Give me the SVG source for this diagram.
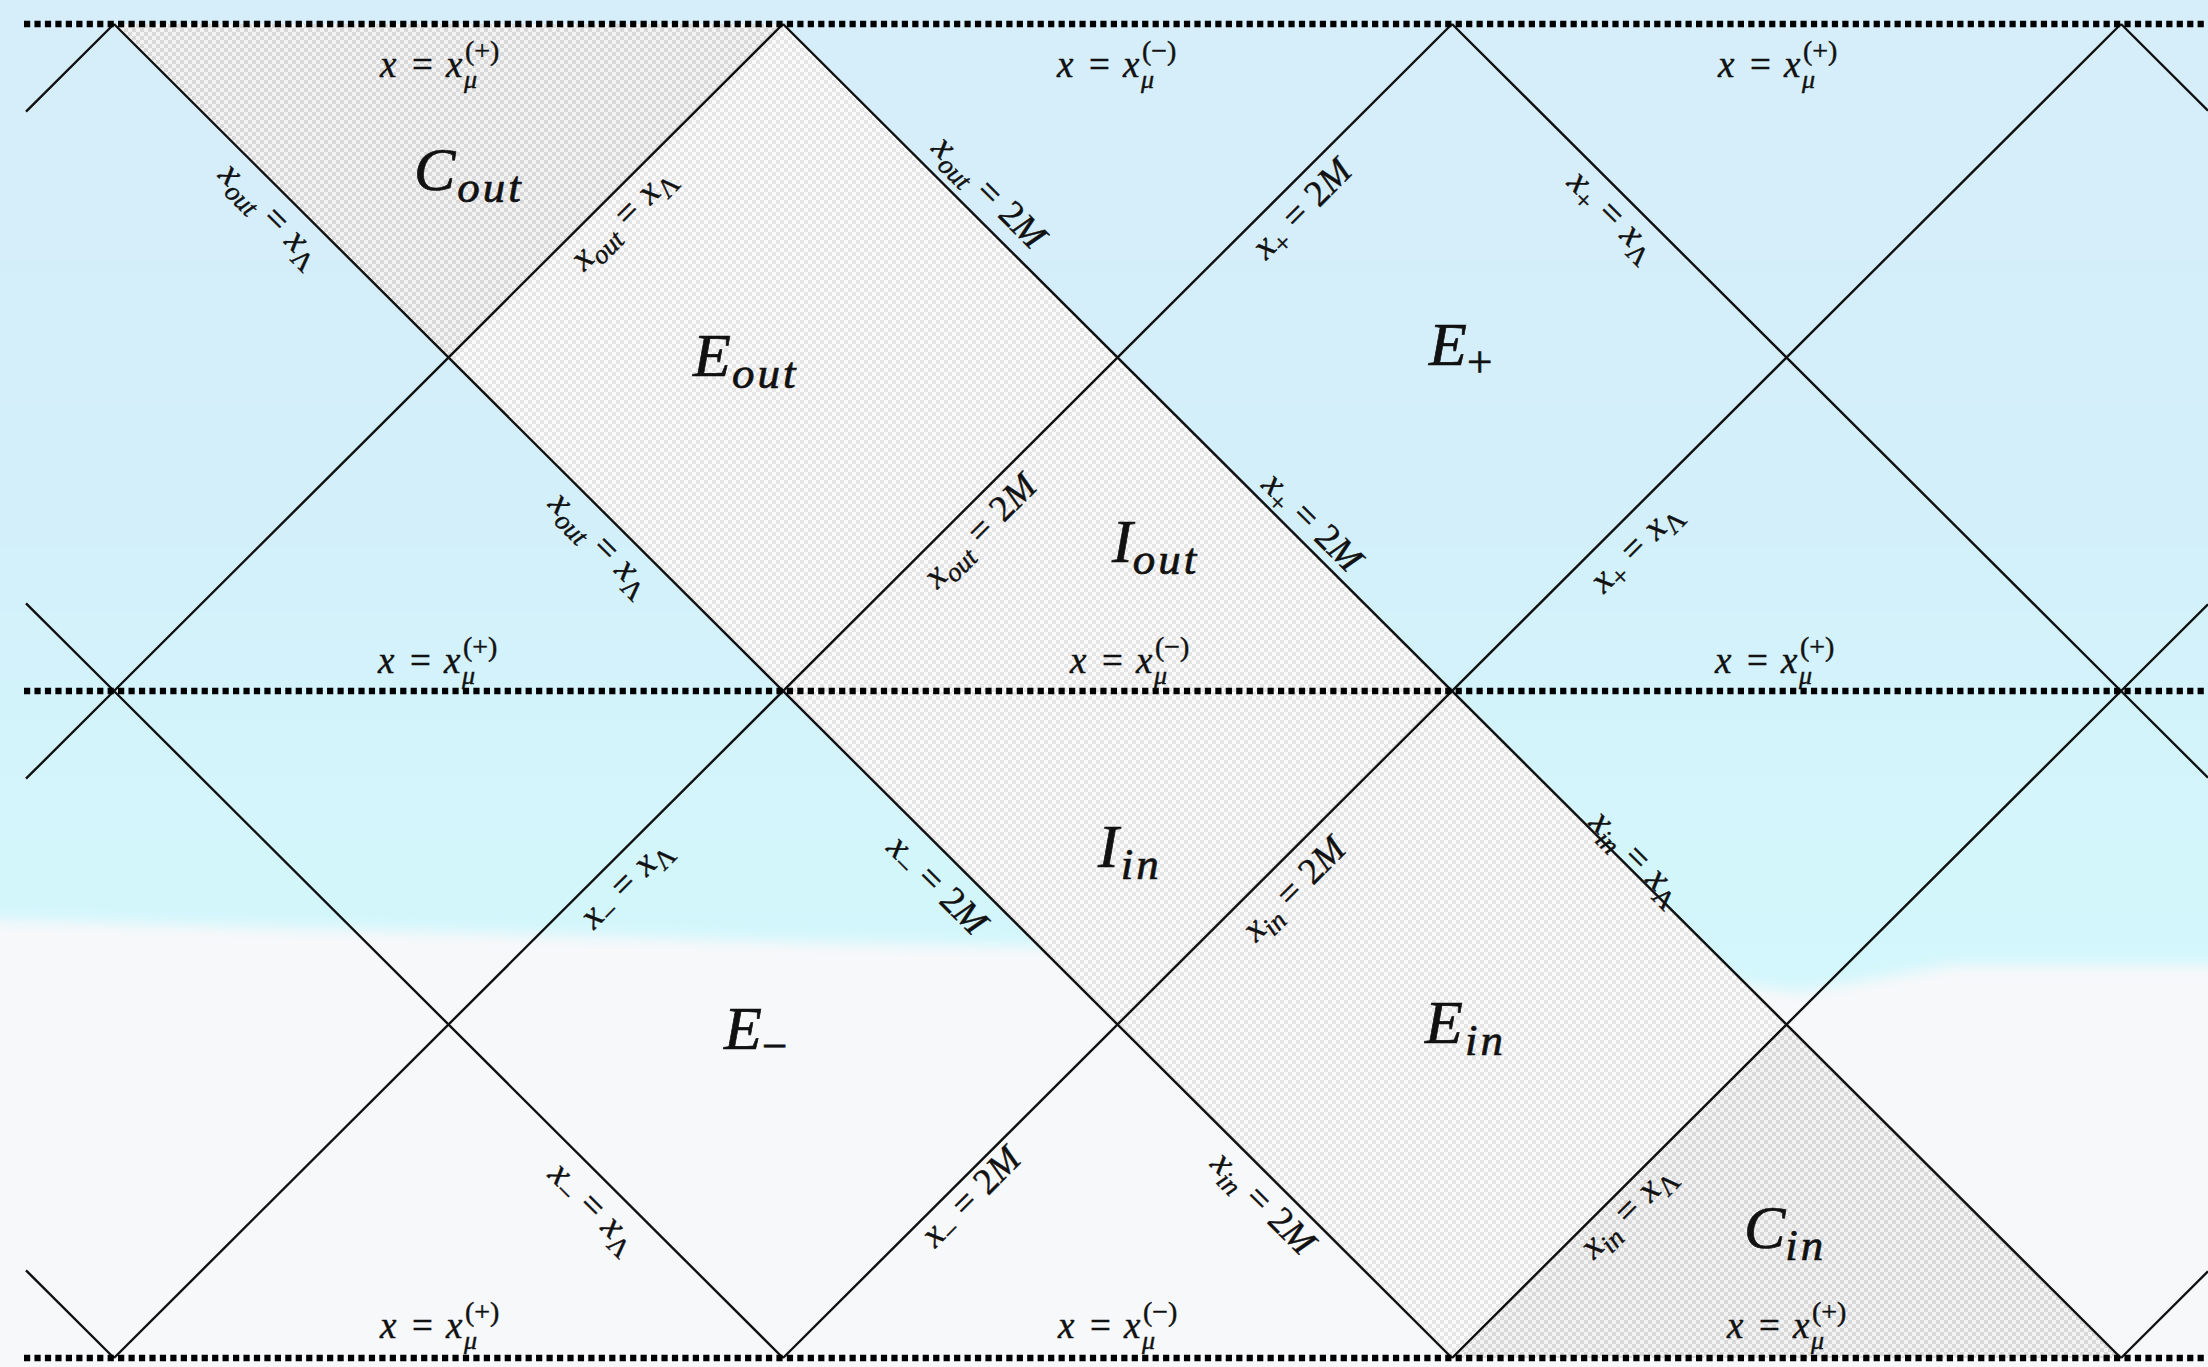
<svg xmlns="http://www.w3.org/2000/svg" width="2208" height="1367" viewBox="0 0 2208 1367">
<style>
.v{font-family:"Liberation Serif","Times New Roman",serif;font-style:italic}
text{font-family:"Liberation Serif","Times New Roman",serif;fill:#111;stroke:#111}
.t{font-size:37px;stroke-width:0.45}
.ss{font-size:26px}
.sp{font-size:28px}
.s{font-size:27px}
.big{font-size:62px;stroke-width:0.7}
.sb{font-size:45px;letter-spacing:3px}
.ln{fill:none;stroke:#111;stroke-width:2.4}
.dot{fill:none;stroke:#000;stroke-width:6.5;stroke-dasharray:6.2 4.25}
</style>
<defs>
<linearGradient id="sky" x1="0" y1="0" x2="0" y2="960" gradientUnits="userSpaceOnUse">
<stop offset="0" stop-color="#d6eef9"/>
<stop offset="0.45" stop-color="#d3eff9"/>
<stop offset="1" stop-color="#d3f7fc"/>
</linearGradient>
<filter id="soft" x="-5%" y="-5%" width="110%" height="110%"><feGaussianBlur stdDeviation="7"/></filter>
<pattern id="chk" width="8" height="8" patternUnits="userSpaceOnUse"><rect width="8" height="8" fill="#fafafa"/><rect width="4" height="4" fill="#e5e5e5"/><rect x="4" y="4" width="4" height="4" fill="#e5e5e5"/></pattern>
<pattern id="chk2" width="8" height="8" patternUnits="userSpaceOnUse"><rect width="8" height="8" fill="#f3f3f3"/><rect width="4" height="4" fill="#d9d9d9"/><rect x="4" y="4" width="4" height="4" fill="#d9d9d9"/></pattern>
</defs>

<g id="background">
<rect width="2208" height="1367" fill="#f7f8fa"/>
<path d="M-60,-60 H2270 V965 L1950,965 L1800,992 L1600,965 L1100,948 L800,942 L-60,918 Z" fill="url(#sky)" filter="url(#soft)"/>
</g>

<g id="regions">
<polygon id="band" points="114,24 783,24 2121,1358 1452,1358" fill="url(#chk)"/>
<polygon id="region-cout" points="114,24 783,24 448.5,357.5" fill="url(#chk2)"/>
<polygon id="region-cin" points="1452,1358 1786.5,1024.5 2121,1358" fill="url(#chk2)"/>
</g>

<g id="connectors">
<polyline class="ln" points="114,24 1452,1358"/>
<polyline class="ln" points="783,24 2121,1358"/>
<polyline class="ln" points="1452,24 2121,691 2208,777.7"/>
<polyline class="ln" points="2121,24 2208,110.7"/>
<polyline class="ln" points="26,603.3 114,691 783,1358"/>
<polyline class="ln" points="26,1270.3 114,1358"/>
<polyline class="ln" points="26,111.7 114,24"/>
<polyline class="ln" points="26,778.7 114,691 783,24"/>
<polyline class="ln" points="114,1358 1452,24"/>
<polyline class="ln" points="783,1358 2121,24"/>
<polyline class="ln" points="1452,1358 2121,691 2208,604.3"/>
<polyline class="ln" points="2121,1358 2208,1271.3"/>
<line class="dot" x1="24" y1="24" x2="2208" y2="24"/>
<line class="dot" x1="24" y1="691" x2="2208" y2="691"/>
<line class="dot" x1="24" y1="1358" x2="2208" y2="1358"/>
</g>

<g id="boundary-labels">
<text class="t" y="77"><tspan class="v" x="380">x</tspan><tspan x="412">=</tspan><tspan class="v" x="446">x</tspan><tspan class="v ss" x="464" y="88">μ</tspan><tspan class="sp" x="465" y="60">(+)</tspan></text>
<text class="t" y="77"><tspan class="v" x="1057">x</tspan><tspan x="1089">=</tspan><tspan class="v" x="1123">x</tspan><tspan class="v ss" x="1141" y="88">μ</tspan><tspan class="sp" x="1142" y="60">(−)</tspan></text>
<text class="t" y="77"><tspan class="v" x="1718">x</tspan><tspan x="1750">=</tspan><tspan class="v" x="1784">x</tspan><tspan class="v ss" x="1802" y="88">μ</tspan><tspan class="sp" x="1803" y="60">(+)</tspan></text>
<text class="t" y="673"><tspan class="v" x="378">x</tspan><tspan x="410">=</tspan><tspan class="v" x="444">x</tspan><tspan class="v ss" x="462" y="684">μ</tspan><tspan class="sp" x="463" y="656">(+)</tspan></text>
<text class="t" y="673"><tspan class="v" x="1070">x</tspan><tspan x="1102">=</tspan><tspan class="v" x="1136">x</tspan><tspan class="v ss" x="1154" y="684">μ</tspan><tspan class="sp" x="1155" y="656">(−)</tspan></text>
<text class="t" y="673"><tspan class="v" x="1715">x</tspan><tspan x="1747">=</tspan><tspan class="v" x="1781">x</tspan><tspan class="v ss" x="1799" y="684">μ</tspan><tspan class="sp" x="1800" y="656">(+)</tspan></text>
<text class="t" y="1338"><tspan class="v" x="380">x</tspan><tspan x="412">=</tspan><tspan class="v" x="446">x</tspan><tspan class="v ss" x="464" y="1349">μ</tspan><tspan class="sp" x="465" y="1321">(+)</tspan></text>
<text class="t" y="1338"><tspan class="v" x="1058">x</tspan><tspan x="1090">=</tspan><tspan class="v" x="1124">x</tspan><tspan class="v ss" x="1142" y="1349">μ</tspan><tspan class="sp" x="1143" y="1321">(−)</tspan></text>
<text class="t" y="1338"><tspan class="v" x="1727">x</tspan><tspan x="1759">=</tspan><tspan class="v" x="1793">x</tspan><tspan class="v ss" x="1811" y="1349">μ</tspan><tspan class="sp" x="1812" y="1321">(+)</tspan></text>
</g>

<g id="line-labels">
<text class="t" text-anchor="middle" y="10" transform="translate(270,215) rotate(45)"><tspan class="v">x</tspan><tspan class="v s" dy="8">out</tspan><tspan dx="11" dy="-8">=</tspan><tspan class="v" dx="11">x</tspan><tspan class="s" dy="8">Λ</tspan></text>
<text class="t" text-anchor="middle" y="10" transform="translate(623,219) rotate(-45)"><tspan class="v">x</tspan><tspan class="v s" dy="8">out</tspan><tspan dx="11" dy="-8">=</tspan><tspan class="v" dx="11">x</tspan><tspan class="s" dy="8">Λ</tspan></text>
<text class="t" text-anchor="middle" y="10" transform="translate(988,193) rotate(45)"><tspan class="v">x</tspan><tspan class="v s" dy="8">out</tspan><tspan dx="11" dy="-8">=</tspan><tspan dx="11">2</tspan><tspan class="v">M</tspan></text>
<text class="t" text-anchor="middle" y="10" transform="translate(1303,210) rotate(-45)"><tspan class="v">x</tspan><tspan class="s" dy="8">+</tspan><tspan dx="11" dy="-8">=</tspan><tspan dx="11">2</tspan><tspan class="v">M</tspan></text>
<text class="t" text-anchor="middle" y="10" transform="translate(1612,216) rotate(45)"><tspan class="v">x</tspan><tspan class="s" dy="8">+</tspan><tspan dx="11" dy="-8">=</tspan><tspan class="v" dx="11">x</tspan><tspan class="s" dy="8">Λ</tspan></text>
<text class="t" text-anchor="middle" y="10" transform="translate(600,544) rotate(45)"><tspan class="v">x</tspan><tspan class="v s" dy="8">out</tspan><tspan dx="11" dy="-8">=</tspan><tspan class="v" dx="11">x</tspan><tspan class="s" dy="8">Λ</tspan></text>
<text class="t" text-anchor="middle" y="10" transform="translate(981,532) rotate(-45)"><tspan class="v">x</tspan><tspan class="v s" dy="8">out</tspan><tspan dx="11" dy="-8">=</tspan><tspan dx="11">2</tspan><tspan class="v">M</tspan></text>
<text class="t" text-anchor="middle" y="10" transform="translate(1311,523) rotate(45)"><tspan class="v">x</tspan><tspan class="s" dy="8">+</tspan><tspan dx="11" dy="-8">=</tspan><tspan dx="11">2</tspan><tspan class="v">M</tspan></text>
<text class="t" text-anchor="middle" y="10" transform="translate(1636,548) rotate(-45)"><tspan class="v">x</tspan><tspan class="s" dy="8">+</tspan><tspan dx="11" dy="-8">=</tspan><tspan class="v" dx="11">x</tspan><tspan class="s" dy="8">Λ</tspan></text>
<text class="t" text-anchor="middle" y="10" transform="translate(626,884) rotate(-45)"><tspan class="v">x</tspan><tspan class="s" dy="8">−</tspan><tspan dx="11" dy="-8">=</tspan><tspan class="v" dx="11">x</tspan><tspan class="s" dy="8">Λ</tspan></text>
<text class="t" text-anchor="middle" y="10" transform="translate(936,886) rotate(45)"><tspan class="v">x</tspan><tspan class="s" dy="8">−</tspan><tspan dx="11" dy="-8">=</tspan><tspan dx="11">2</tspan><tspan class="v">M</tspan></text>
<text class="t" text-anchor="middle" y="10" transform="translate(1295,890) rotate(-45)"><tspan class="v">x</tspan><tspan class="v s" dy="8">in</tspan><tspan dx="11" dy="-8">=</tspan><tspan dx="11">2</tspan><tspan class="v">M</tspan></text>
<text class="t" text-anchor="middle" y="10" transform="translate(1636,858) rotate(45)"><tspan class="v">x</tspan><tspan class="v s" dy="8">in</tspan><tspan dx="11" dy="-8">=</tspan><tspan class="v" dx="11">x</tspan><tspan class="s" dy="8">Λ</tspan></text>
<text class="t" text-anchor="middle" y="10" transform="translate(593,1208) rotate(45)"><tspan class="v">x</tspan><tspan class="s" dy="8">−</tspan><tspan dx="11" dy="-8">=</tspan><tspan class="v" dx="11">x</tspan><tspan class="s" dy="8">Λ</tspan></text>
<text class="t" text-anchor="middle" y="10" transform="translate(972,1198) rotate(-45)"><tspan class="v">x</tspan><tspan class="s" dy="8">−</tspan><tspan dx="11" dy="-8">=</tspan><tspan dx="11">2</tspan><tspan class="v">M</tspan></text>
<text class="t" text-anchor="middle" y="10" transform="translate(1262,1204) rotate(45)"><tspan class="v">x</tspan><tspan class="v s" dy="8">in</tspan><tspan dx="11" dy="-8">=</tspan><tspan dx="11">2</tspan><tspan class="v">M</tspan></text>
<text class="t" text-anchor="middle" y="10" transform="translate(1628,1212) rotate(-45)"><tspan class="v">x</tspan><tspan class="v s" dy="8">in</tspan><tspan dx="11" dy="-8">=</tspan><tspan class="v" dx="11">x</tspan><tspan class="s" dy="8">Λ</tspan></text>
</g>

<g id="region-labels">
<g id="C_out"><text class="big" x="414" y="190"><tspan class="v">C</tspan><tspan class="v sb" dx="2" dy="12">out</tspan></text></g>
<g id="E_out"><text class="big" x="693" y="376"><tspan class="v">E</tspan><tspan class="v sb" dx="1" dy="12">out</tspan></text></g>
<g id="E_plus"><text class="big" x="1429" y="365"><tspan class="v">E</tspan><tspan class="sb" dx="0" dy="12">+</tspan></text></g>
<g id="I_out"><text class="big" x="1112" y="562"><tspan class="v">I</tspan><tspan class="v sb" dx="0" dy="12">out</tspan></text></g>
<g id="I_in"><text class="big" x="1098" y="867"><tspan class="v">I</tspan><tspan class="v sb" dx="2" dy="12">in</tspan></text></g>
<g id="E_minus"><text class="big" x="724" y="1049"><tspan class="v">E</tspan><tspan class="sb" dx="0" dy="12">−</tspan></text></g>
<g id="E_in"><text class="big" x="1425" y="1043"><tspan class="v">E</tspan><tspan class="v sb" dx="2" dy="12">in</tspan></text></g>
<g id="C_in"><text class="big" x="1744" y="1248"><tspan class="v">C</tspan><tspan class="v sb" dx="0" dy="12">in</tspan></text></g>
</g>
</svg>
